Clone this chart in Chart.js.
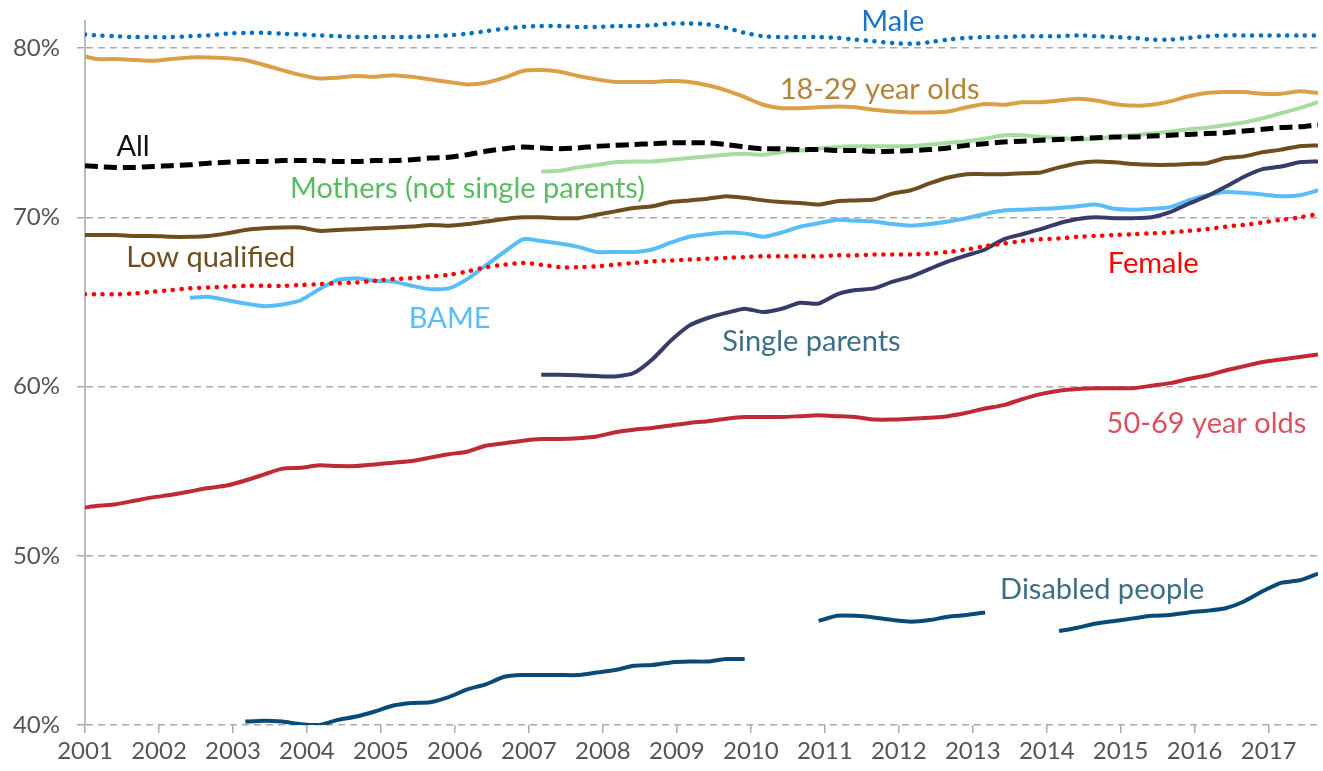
<!DOCTYPE html>
<html>
<head>
<meta charset="utf-8">
<script src="https://cdn.jsdelivr.net/npm/chart.js@4/dist/chart.umd.min.js"></script>
<style>
  html, body { margin: 0; padding: 0; background: #fff; }
  #wrap { width: 1323px; height: 771px; position: relative; }
</style>
</head>
<body>
<div id="wrap"><canvas id="canvas-chart"></canvas></div>
<script>
// periods: rolling quarters, as decimal years (Jan 2001, then Mar/Jun/Sep/Dec)
const periods = [
  2001.000,
  2001.167, 2001.417, 2001.667, 2001.917,
  2002.167, 2002.417, 2002.667, 2002.917,
  2003.167, 2003.417, 2003.667, 2003.917,
  2004.167, 2004.417, 2004.667, 2004.917,
  2005.167, 2005.417, 2005.667, 2005.917,
  2006.167, 2006.417, 2006.667, 2006.917,
  2007.167, 2007.417, 2007.667, 2007.917,
  2008.167, 2008.417, 2008.667, 2008.917,
  2009.167, 2009.417, 2009.667, 2009.917,
  2010.167, 2010.417, 2010.667, 2010.917,
  2011.167, 2011.417, 2011.667, 2011.917,
  2012.167, 2012.417, 2012.667, 2012.917,
  2013.167, 2013.417, 2013.667, 2013.917,
  2014.167, 2014.417, 2014.667, 2014.917,
  2015.167, 2015.417, 2015.667, 2015.917,
  2016.167, 2016.417, 2016.667, 2016.917,
  2017.167, 2017.417, 2017.667
];

const yearTicks = [2001, 2002, 2003, 2004, 2005, 2006, 2007, 2008, 2009,
  2010, 2011, 2012, 2013, 2014, 2015, 2016, 2017];
const pctTicks = [40, 50, 60, 70, 80];

const male = [80.8,
  80.75, 80.7, 80.65, 80.65,
  80.65, 80.7, 80.75, 80.85,
  80.9, 80.9, 80.85, 80.8,
  80.75, 80.7, 80.65, 80.65,
  80.65, 80.65, 80.7, 80.75,
  80.85, 81.0, 81.15, 81.25,
  81.3, 81.3, 81.25, 81.25,
  81.3, 81.3, 81.35, 81.45,
  81.45, 81.4, 81.2, 80.9,
  80.7, 80.65, 80.65, 80.65,
  80.6, 80.5, 80.4, 80.3,
  80.25, 80.35, 80.5, 80.6,
  80.65, 80.65, 80.7, 80.7,
  80.7, 80.75, 80.7, 80.65,
  80.6, 80.5, 80.5, 80.6,
  80.7, 80.75, 80.75, 80.75,
  80.75, 80.75, 80.75];

const young = [79.5,
  79.35, 79.35, 79.3, 79.25,
  79.35, 79.45, 79.45, 79.4,
  79.3, 79.0, 78.7, 78.4,
  78.2, 78.25, 78.35, 78.3,
  78.4, 78.3, 78.15, 78.0,
  77.85, 77.95, 78.25, 78.65,
  78.7, 78.6, 78.35, 78.15,
  78.0, 78.0, 78.0, 78.05,
  78.0, 77.8, 77.5, 77.1,
  76.65, 76.45, 76.45, 76.5,
  76.55, 76.5, 76.35, 76.25,
  76.2, 76.2, 76.25, 76.5,
  76.7, 76.65, 76.8, 76.8,
  76.9, 77.0, 76.9, 76.7,
  76.6, 76.65, 76.85, 77.15,
  77.35, 77.4, 77.4, 77.3,
  77.3, 77.45, 77.35];

const all = [73.05,
  73.0, 72.95, 72.95, 73.0,
  73.05, 73.1, 73.2, 73.25,
  73.3, 73.3, 73.35, 73.35,
  73.35, 73.3, 73.3, 73.35,
  73.35, 73.4, 73.5, 73.55,
  73.7, 73.9, 74.05, 74.15,
  74.1, 74.05, 74.1, 74.2,
  74.25, 74.3, 74.35, 74.4,
  74.4, 74.4, 74.3, 74.15,
  74.05, 74.05, 74.0, 74.0,
  73.95, 73.95, 73.9, 73.9,
  73.95, 74.0, 74.1, 74.25,
  74.35, 74.45, 74.5, 74.55,
  74.6, 74.65, 74.7, 74.75,
  74.75, 74.8, 74.85, 74.9,
  74.95, 75.0, 75.1, 75.2,
  75.3, 75.35, 75.45];

const mothers = [null,
  null, null, null, null,
  null, null, null, null,
  null, null, null, null,
  null, null, null, null,
  null, null, null, null,
  null, null, null, null,
  72.7, 72.75, 72.95, 73.1,
  73.25, 73.3, 73.3, 73.4,
  73.5, 73.6, 73.7, 73.75,
  73.7, 73.85, 73.95, 74.05,
  74.15, 74.2, 74.2, 74.2,
  74.2, 74.3, 74.4, 74.5,
  74.65, 74.85, 74.85, 74.75,
  74.7, 74.6, 74.65, 74.75,
  74.85, 74.95, 75.05, 75.2,
  75.3, 75.45, 75.6, 75.85,
  76.15, 76.45, 76.8];

const lowQualified = [68.95,
  68.95, 68.95, 68.9, 68.9,
  68.85, 68.85, 68.9, 69.05,
  69.25, 69.35, 69.4, 69.4,
  69.2, 69.25, 69.3, 69.35,
  69.4, 69.45, 69.55, 69.5,
  69.6, 69.75, 69.9, 70.0,
  70.0, 69.95, 69.95, 70.15,
  70.35, 70.55, 70.65, 70.9,
  71.0, 71.1, 71.25, 71.15,
  71.0, 70.9, 70.85, 70.75,
  70.95, 71.0, 71.05, 71.4,
  71.6, 72.0, 72.35, 72.55,
  72.55, 72.55, 72.6, 72.65,
  72.95, 73.2, 73.3, 73.25,
  73.15, 73.1, 73.1, 73.15,
  73.2, 73.5, 73.6, 73.85,
  74.0, 74.2, 74.25];

const female = [65.45,
  65.45, 65.45, 65.5, 65.6,
  65.7, 65.8, 65.85, 65.9,
  65.95, 65.95, 65.95, 66.0,
  66.05, 66.1, 66.15, 66.25,
  66.35, 66.4, 66.5, 66.6,
  66.8, 67.05, 67.2, 67.3,
  67.2, 67.05, 67.05, 67.1,
  67.2, 67.3, 67.4, 67.45,
  67.5, 67.55, 67.6, 67.65,
  67.7, 67.7, 67.7, 67.7,
  67.75, 67.75, 67.8, 67.8,
  67.8, 67.85, 67.95, 68.1,
  68.3, 68.45, 68.6, 68.7,
  68.75, 68.85, 68.9, 68.95,
  69.0, 69.05, 69.1, 69.2,
  69.3, 69.45, 69.55, 69.7,
  69.85, 70.0, 70.2];

const bame = [null,
  null, null, null, null,
  null, 65.25, 65.3, 65.1,
  64.9, 64.75, 64.85, 65.1,
  65.75, 66.3, 66.4, 66.25,
  66.2, 65.95, 65.75, 65.8,
  66.35, 67.15, 67.95, 68.7,
  68.6, 68.45, 68.25, 67.95,
  67.95, 67.95, 68.1, 68.5,
  68.85, 69.0, 69.1, 69.05,
  68.85, 69.1, 69.45, 69.65,
  69.85, 69.8, 69.75, 69.6,
  69.5, 69.6, 69.75, 69.95,
  70.2, 70.4, 70.45, 70.5,
  70.55, 70.65, 70.75, 70.5,
  70.45, 70.5, 70.6, 71.0,
  71.3, 71.5, 71.45, 71.35,
  71.25, 71.3, 71.6];

const singleParents = [null,
  null, null, null, null,
  null, null, null, null,
  null, null, null, null,
  null, null, null, null,
  null, null, null, null,
  null, null, null, null,
  60.7, 60.7, 60.67, 60.62,
  60.6, 60.8, 61.6, 62.7,
  63.6, 64.05, 64.35, 64.6,
  64.4, 64.6, 64.95, 64.9,
  65.45, 65.7, 65.8, 66.2,
  66.5, 66.95, 67.4, 67.75,
  68.1, 68.7, 69.0, 69.3,
  69.65, 69.9, 70.0, 69.95,
  69.95, 70.0, 70.3, 70.8,
  71.25, 71.8, 72.4, 72.85,
  73.0, 73.25, 73.3];

const olderWorkers = [52.85,
  52.95, 53.05, 53.25, 53.45,
  53.6, 53.8, 54.0, 54.15,
  54.45, 54.8, 55.15, 55.2,
  55.35, 55.3, 55.3, 55.4,
  55.5, 55.6, 55.8, 56.0,
  56.15, 56.5, 56.65, 56.8,
  56.9, 56.9, 56.95, 57.05,
  57.3, 57.45, 57.55, 57.7,
  57.85, 57.95, 58.1, 58.2,
  58.2, 58.2, 58.25, 58.3,
  58.25, 58.2, 58.05, 58.05,
  58.1, 58.15, 58.25, 58.45,
  58.7, 58.9, 59.25, 59.55,
  59.75, 59.85, 59.9, 59.9,
  59.9, 60.05, 60.2, 60.45,
  60.65, 60.95, 61.2, 61.45,
  61.6, 61.75, 61.9];

const disabled = [null,
  null, null, null, null,
  null, null, null, null,
  40.2, 40.25, 40.2, 40.05,
  40.0, 40.3, 40.5, 40.8,
  41.15, 41.3, 41.35, 41.65,
  42.1, 42.4, 42.85, 42.95,
  42.95, 42.95, 42.95, 43.1,
  43.25, 43.5, 43.55, 43.7,
  43.75, 43.75, 43.9, 43.9,
  null, null, null, 46.15,
  46.45, 46.45, 46.35, 46.2,
  46.1, 46.2, 46.4, 46.5,
  46.65, null, null, null,
  45.55, 45.75, 46.0, 46.15,
  46.3, 46.45, 46.5, 46.65,
  46.75, 46.9, 47.3, 47.9,
  48.4, 48.55, 48.95];

// series name labels, placed in data units (year, %)
const seriesLabels = [
  { text: 'Male', x: 2011.92, y: 81.0, color: '#1a74c4' },
  { text: '18-29 year olds', x: 2011.74, y: 77.0, color: '#b5823a' },
  { text: 'All', x: 2001.65, y: 73.6, color: '#111111' },
  { text: 'Mothers (not single parents)', x: 2006.17, y: 71.15, color: '#5cbb62' },
  { text: 'Low qualified', x: 2002.7, y: 67.05, color: '#6e4d1f' },
  { text: 'Female', x: 2015.44, y: 66.7, color: '#ff0000' },
  { text: 'BAME', x: 2005.93, y: 63.45, color: '#5bbdf5' },
  { text: 'Single parents', x: 2010.82, y: 62.1, color: '#3d6e85' },
  { text: '50-69 year olds', x: 2016.16, y: 57.25, color: '#d9535f' },
  { text: 'Disabled people', x: 2014.75, y: 47.45, color: '#3d6e85' }
];

function toPoints(values) {
  return values.map((v, i) => ({ x: periods[i], y: v }));
}

function solid(values, color) {
  return {
    data: toPoints(values),
    borderColor: color,
    borderWidth: 4,
    pointRadius: 0,
    tension: 0.2,
    spanGaps: false
  };
}

function dotted(values, color) {
  return {
    data: toPoints(values),
    borderColor: color,
    borderWidth: 4.5,
    borderDash: [0.1, 8.7],
    borderCapStyle: 'round',
    pointRadius: 0,
    tension: 0.3
  };
}

const labelPlugin = {
  id: 'seriesLabels',
  afterDatasetsDraw(chart) {
    const { ctx, scales } = chart;
    ctx.save();
    ctx.font = '29px Lato';
    ctx.textAlign = 'center';
    ctx.textBaseline = 'alphabetic';
    seriesLabels.forEach(l => {
      ctx.fillStyle = l.color;
      ctx.fillText(l.text, scales.x.getPixelForValue(l.x), scales.y.getPixelForValue(l.y));
    });
    ctx.restore();
  }
};

Chart.defaults.font.family = 'Lato';
Chart.defaults.font.size = 24;
Chart.defaults.color = '#555';

const allSeries = Object.assign(solid(all, '#000000'), { borderWidth: 5, borderDash: [13, 6], tension: 0.3 });

let ctx = document.getElementById('canvas-chart').getContext('2d');
let employmentChart = new Chart(ctx, {
  type: 'line',
  data: {
    datasets: [
      dotted(male, '#0070c0'),
      dotted(female, '#ff0000'),
      allSeries,
      solid(young, '#d9a047'),
      solid(mothers, '#a6dca0'),
      solid(singleParents, '#363b6c'),
      solid(bame, '#5bbdf5'),
      solid(lowQualified, '#6e4d1f'),
      solid(olderWorkers, '#be2b37'),
      solid(disabled, '#0b4a78')
    ]
  },
  options: {
    responsive: true,
    maintainAspectRatio: false,
    animation: false,
    layout: { padding: { left: 0, top: 21, right: 5, bottom: 0 } },
    plugins: {
      legend: { display: false },
      tooltip: { enabled: false }
    },
    scales: {
      x: {
        type: 'linear',
        min: 2001,
        max: 2017.667,
        afterBuildTicks: s => { s.ticks = yearTicks.map(v => ({ value: v })); },
        afterFit: s => { s.height = 46; s.paddingLeft = 0; s.paddingRight = 0; },
        ticks: {
          autoSkip: false,
          maxRotation: 0,
          padding: 4,
          color: '#555',
          callback: v => String(v)
        },
        grid: { drawOnChartArea: false, drawTicks: true, tickLength: 8, color: '#aaa', lineWidth: 1.5 },
        border: { display: false }
      },
      y: {
        min: 40,
        max: 81.6,
        afterBuildTicks: s => { s.ticks = pctTicks.map(v => ({ value: v })); },
        afterFit: s => { s.width = 85; s.paddingTop = 0; s.paddingBottom = 0; },
        ticks: {
          padding: 17,
          color: '#555',
          callback: v => v + '%'
        },
        grid: { color: '#aaa', lineWidth: 1.5, tickLength: 8 },
        border: { display: true, color: '#bbb', width: 2, dash: [7, 5] }
      }
    }
  },
  plugins: [labelPlugin]
});
</script>
</body>
</html>
